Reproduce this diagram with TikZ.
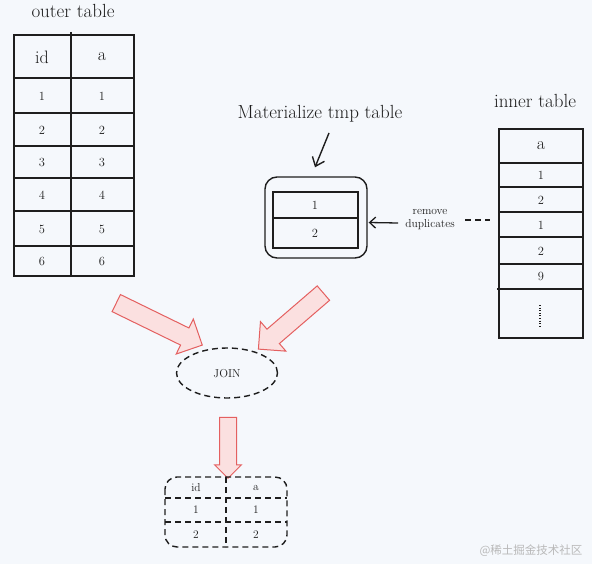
\documentclass[tikz,border=0pt]{standalone}
\usepackage{fontspec}
\newfontfamily\cjk{Noto Sans CJK SC}
\usetikzlibrary{positioning}
\usetikzlibrary{calc}
\usetikzlibrary{arrows.meta}
\usetikzlibrary{shapes.geometric}
\usetikzlibrary{shapes.arrows}
\definecolor{bgcol}{RGB}{245,248,252}
\definecolor{penred}{RGB}{228,96,96}
\definecolor{fillred}{RGB}{251,224,224}
\definecolor{inkgrey}{RGB}{30,30,30}
\newcommand{\blockarrow}[5]{%
  \path let \p1=(#1), \p2=(#2), \n1={atan2(\y2-\y1,\x2-\x1)}, \n2={veclen(\x2-\x1,\y2-\y1)} in
    node[bigarrow, inner ysep=#3, single arrow head extend=#4, minimum height=\n2, rotate=\n1] (#5) at ($(#1)!0.5!(#2)$) {};
}

\begin{document}
\begin{tikzpicture}
    [x=1pt, y=-1pt,
    ink/.style={draw=inkgrey, line width=1.4pt},
    dashink/.style={draw=inkgrey, line width=1.4pt, dash pattern=on 6pt off 4pt},
    cell/.style={text=inkgrey, font=\fontsize{12.5}{13}\selectfont},
    smallcell/.style={text=inkgrey, font=\fontsize{11.5}{13}\selectfont},
    head/.style={text=inkgrey, font=\fontsize{18}{20}\selectfont},
    caption/.style={text=inkgrey, font=\fontsize{19}{21}\selectfont},
    bigarrow/.style={single arrow, draw=penred, fill=fillred, line width=1pt, inner xsep=0pt, text height=0pt, text depth=0pt},
    joinnode/.style={ellipse, dashink, minimum width=101pt, minimum height=50pt, inner sep=0pt}]
    \useasboundingbox[fill=bgcol] (0,0) rectangle (592,564);

    % outer table
    \node[caption] (outercap) at (73,11) {outer table};
    \draw[ink] (14,35) rectangle (134,276);
    \draw[ink] (71,32) -- (71,276);
    \foreach \y in {78,113,146,178,211,246}
        \draw[ink] (14,\y) -- (134,\y);
    \node[head] (oid) at (42,57) {id};
    \node[head] (oa) at (102,57) {a};
    \foreach \y/\v in {96/1,130/2,162/3,195/4,229/5,261/6} {
        \node[cell] (oid\v) at (42,\y) {\v};
        \node[cell] (oa\v) at (102,\y) {\v};
    }

    % tmp table
    \node[caption] (matcap) at (320,114) {Materialize tmp table};
    \node[ink, rounded corners=12pt, minimum width=102pt, minimum height=81pt] (tmpbox) at (316,217.5) {};
    \draw[ink] (273,192) rectangle (358,248);
    \draw[ink] (273,218) -- (358,218);
    \node[cell] (tmp1) at (315,205) {1};
    \node[cell] (tmp2) at (315,233) {2};
    \coordinate (matfrom) at (329,133);
    \draw[ink, line width=1.4pt, -{Straight Barb[length=8pt, width=13pt]}] (matfrom) -- ($(tmpbox.north)+(-1,-9)$);

    % remove duplicates
    \node[smallcell, align=center, inner sep=1pt] (rmdup) at (430,220) {remove\\duplicates};
    \draw[ink, line width=1.3pt, -{Straight Barb[length=6pt, width=11pt]}] ($(rmdup.west)+(-6,3)$) -- ($(tmpbox.east)+(1,5)$);
    \draw[dashink] (465,220) -- (490,220);

    % inner table
    \node[caption] (innercap) at (535,101) {inner table};
    \draw[ink] (499,129) rectangle (583,338);
    \foreach \y in {163,187,212,237,264}
        \draw[ink] (499,\y) -- (583,\y);
    \draw[ink] (497,289) -- (583,289);
    \node[head] (ia) at (541,146) {a};
    \foreach \y/\v [count=\i] in {175/1,200/2,225/1,251/2,276/9}
        \node[cell] (ia\i) at (541,\y) {\v};
    \draw[inkgrey, line width=1.6pt, dash pattern=on 1pt off 1.6pt] (540,305) -- (540,326);

    % join
    \node[joinnode] (join) at (227,373) {};
    \node[smallcell] (jointxt) at (227,374) {JOIN};
    \coordinate (la1) at (112,301);
    \coordinate (la2) at (198,343);
    \coordinate (ra1) at (327,290);
    \coordinate (ra2) at (262,346);
    \coordinate (da1) at (228,413);
    \coordinate (da2) at (228,474);
    \blockarrow{la1}{la2}{9pt}{10pt}{larrow}
    \blockarrow{ra1}{ra2}{9pt}{10pt}{rarrow}
    \blockarrow{da1}{da2}{8pt}{5pt}{darrow}

    % result table
    \draw[dashink, rounded corners=12pt] (165,477) rectangle (287,547);
    \draw[dashink] (165,498) -- (287,498);
    \draw[dashink] (165,522) -- (287,522);
    \draw[dashink] (226,477) -- (226,547);
    \node[smallcell] (rid) at (196,488) {id};
    \node[smallcell] (ra) at (256,488) {a};
    \node[smallcell] (rid1) at (196,510) {1};
    \node[smallcell] (ra1) at (256,510) {1};
    \node[smallcell] (rid2) at (196,535) {2};
    \node[smallcell] (ra2) at (256,535) {2};

    \node[text=gray!55, font=\cjk\fontsize{11.5}{12}\selectfont] (mark) at (531,551) {@稀土掘金技术社区};
\end{tikzpicture}
\end{document}
